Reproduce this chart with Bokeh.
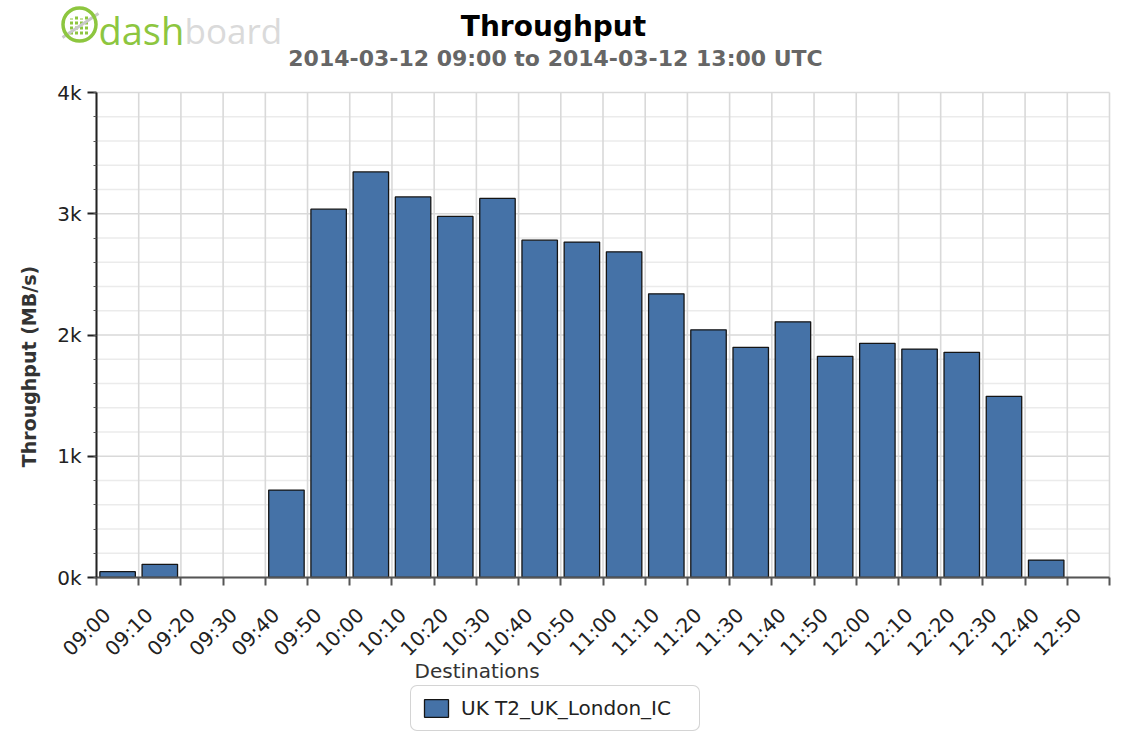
import math
from bokeh.plotting import figure
from bokeh.models import (Range1d, FixedTicker, Legend, LegendItem, Label,
                          LinearAxis, ColumnDataSource)
from bokeh.embed import file_html
from bokeh.resources import INLINE

# ---- data ----
times = ["09:00", "09:10", "09:20", "09:30", "09:40", "09:50",
         "10:00", "10:10", "10:20", "10:30", "10:40", "10:50",
         "11:00", "11:10", "11:20", "11:30", "11:40", "11:50",
         "12:00", "12:10", "12:20", "12:30", "12:40", "12:50"]
throughput = [48, 109, 0, 0, 721, 3038,
              3345, 3139, 2978, 3126, 2782, 2766,
              2686, 2340, 2043, 1898, 2109, 1824,
              1931, 1884, 1857, 1494, 144, 0]
y_ticks = [0, 1000, 2000, 3000, 4000]
y_tick_labels = ["0k", "1k", "2k", "3k", "4k"]
y_minor_step = 200
series_name = "UK T2_UK_London_IC"
legend_title = "Destinations"
title_text = "Throughput"
subtitle_text = "2014-03-12 09:00 to 2014-03-12 13:00 UTC"
y_label = "Throughput (MB/s)"

BIN = 10  # minutes per bar
start = 9 * 60


def to_min(t):
    h, m = t.split(":")
    return int(h) * 60 + int(m) - start


mins = [to_min(t) for t in times]
end = mins[-1] + BIN
ymax = y_ticks[-1]

keep = [i for i, v in enumerate(throughput) if v > 0]
src = ColumnDataSource(dict(
    x=[mins[i] + BIN / 2 for i in keep],
    top=[throughput[i] for i in keep],
))

# ---- layout (pixels on the page) ----
FONT = "DejaVu Sans"
WC, HC = 1115, 735          # canvas size
ORG = 1                     # canvas origin on the page
PL, PR, PT, PB = 97, 1110, 93, 578   # plot area edges on the page
kx = (PR - PL) / end        # px per minute
ky = (PB - PT) / ymax       # px per MB/s
x0 = -(PL - ORG) / kx
y1 = ymax + (PT - ORG) / ky
x_rng = Range1d(x0, x0 + WC / kx)
y_rng = Range1d(y1 - HC / ky, y1)


def px2x(X):
    return (X - PL) / kx


def px2y(Y):
    return (PB - Y) / ky


def sx(X):      # page x -> screen units of the frame
    return X - ORG


def sy(Y):      # page y -> screen units of the frame (from bottom)
    return HC - (Y - ORG)


def base(Y, size):   # alphabetic baseline correction of the svg text
    return sy(Y - 0.27 * size)


p = figure(width=WC, height=HC, output_backend="svg", toolbar_location=None,
           x_range=x_rng, y_range=y_rng, min_border=0)
p.background_fill_color = "white"
p.border_fill_color = "white"
p.outline_line_color = None
p.xgrid.visible = False
p.ygrid.visible = False

# grid lines limited to the plot area
xt = mins + [end]
minor_y = [v for v in range(0, ymax + 1, y_minor_step) if v not in y_ticks]
p.segment(x0=[0] * len(minor_y), y0=minor_y, x1=[end] * len(minor_y),
          y1=minor_y, line_color="#ebebeb", line_width=1.4)
p.segment(x0=[0] * len(y_ticks), y0=y_ticks, x1=[end] * len(y_ticks),
          y1=y_ticks, line_color="#d9d9d9", line_width=1.6)
p.segment(x0=xt, y0=[0] * len(xt), x1=xt, y1=[ymax] * len(xt),
          line_color="#d9d9d9", line_width=1.6)

bars = p.vbar(x="x", top="top", width=BIN * 0.84, source=src,
              fill_color="#4572a7", line_color="#151515", line_width=1.3)

# bottom axis: ticks at slot boundaries
xa = p.xaxis[0]
xa.fixed_location = 0
xa.bounds = (0, end)
xa.ticker = FixedTicker(ticks=xt)
xa.major_label_overrides = {m: "" for m in xt}
xa.axis_line_color = "#555555"
xa.axis_line_width = 2
xa.major_tick_line_color = "#555555"
xa.major_tick_line_width = 2
xa.major_tick_out = 8
xa.major_tick_in = 0
xa.minor_tick_line_color = None

# rotated labels, ending to the right of their tick as in the original
LABEL_SHIFT = 2.5
xl = LinearAxis(fixed_location=0, bounds=(0, end),
                ticker=FixedTicker(ticks=[m + LABEL_SHIFT for m in mins]),
                major_label_overrides={m + LABEL_SHIFT: t
                                       for m, t in zip(mins, times)},
                major_label_orientation=math.pi / 4,
                axis_line_color=None, major_tick_line_color=None,
                minor_tick_line_color=None, major_tick_out=0,
                major_tick_in=0, major_label_standoff=34,
                major_label_text_font=FONT,
                major_label_text_font_size="20px",
                major_label_text_color="#222222")
p.add_layout(xl, "below")

ya = p.yaxis[0]
ya.fixed_location = 0
ya.bounds = (0, ymax)
ya.ticker = FixedTicker(ticks=y_ticks,
                        minor_ticks=list(range(0, ymax + 1, y_minor_step)))
ya.major_label_overrides = {v: s for v, s in zip(y_ticks, y_tick_labels)}
ya.axis_line_color = "#222222"
ya.axis_line_width = 2
ya.major_tick_line_color = "#222222"
ya.major_tick_line_width = 2
ya.major_tick_out = 9
ya.major_tick_in = 0
ya.minor_tick_out = 3
ya.minor_tick_in = 0
ya.minor_tick_line_color = "#555555"
ya.major_label_text_font = FONT
ya.major_label_text_font_size = "20px"
ya.major_label_text_color = "#222222"
ya.major_label_standoff = 6

p.add_layout(Label(x=sx(29), y=sy(367), x_units="screen", y_units="screen",
                   text=y_label, angle=math.pi / 2, text_font=FONT,
                   text_font_size="19px", text_font_style="bold",
                   text_color="#333333", text_align="center",
                   text_baseline="middle"))

# title and subtitle
p.add_layout(Label(x=sx(554), y=base(35, 28), x_units="screen",
                   y_units="screen", text=title_text, text_font=FONT,
                   text_font_size="28px", text_font_style="bold",
                   text_color="#000000", text_align="center",
                   text_baseline="alphabetic"))
p.add_layout(Label(x=sx(556), y=base(65, 22), x_units="screen",
                   y_units="screen", text=subtitle_text, text_font=FONT,
                   text_font_size="22px", text_font_style="bold",
                   text_color="#666666", text_align="center",
                   text_baseline="alphabetic"))

# logo: ring icon with small bars and a stroke, then the word mark
p.segment(x0=[px2x(X) for X in (72, 77, 82, 87)],
          y0=[px2y(35)] * 4,
          x1=[px2x(X) for X in (72, 77, 82, 87)],
          y1=[px2y(Y) for Y in (19, 15, 19, 17)],
          line_color="#8dc63f", line_width=3, line_dash="3 2")
p.segment(x0=[px2x(63)], y0=[px2y(38)], x1=[px2x(99)], y1=[px2y(14)],
          line_color="#c8c8c8", line_width=3)
p.scatter(x=[px2x(80)], y=[px2y(25)], size=33, marker="circle",
          fill_color=None, line_color="#8dc63f", line_width=3.5)
p.add_layout(Label(x=sx(99), y=base(41, 38), x_units="screen",
                   y_units="screen", text="dash", text_font="Open Sans",
                   text_font_size="38px", text_color="#8dc63f",
                   text_align="left", text_baseline="alphabetic"))
p.add_layout(Label(x=sx(185), y=base(41, 38), x_units="screen",
                   y_units="screen", text="board", text_font="Open Sans",
                   text_font_size="35px", text_color="#dadada",
                   text_align="left", text_baseline="alphabetic"))

# legend
p.add_layout(Label(x=sx(415), y=base(677, 20), x_units="screen",
                   y_units="screen", text=legend_title, text_font=FONT,
                   text_font_size="20px", text_color="#333333",
                   text_align="left", text_baseline="alphabetic"))
legend = Legend(items=[LegendItem(label=series_name, renderers=[bars])],
                location=(sx(411), sy(732)), orientation="vertical",
                padding=10, margin=0, spacing=0,
                glyph_width=30, glyph_height=22, label_height=22,
                label_width=228, label_standoff=10, label_text_font=FONT,
                label_text_font_size="20px", label_text_color="#222222",
                border_line_color="#aaaaaa", border_line_width=1.5,
                background_fill_color="white", background_fill_alpha=1.0)
try:
    legend.border_radius = 7
except AttributeError:
    pass
p.add_layout(legend)

open("out.html", "w").write(file_html(p, INLINE))
